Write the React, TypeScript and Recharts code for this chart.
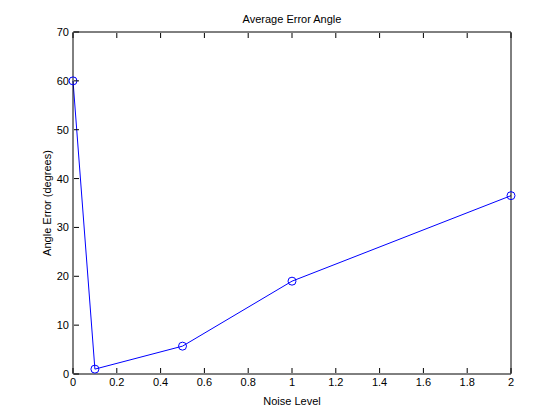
import React from 'react';
import { LineChart, Line, XAxis, YAxis, Label } from 'recharts';

const noise = [0, 0.1, 0.5, 1, 2];
const angleError = [60, 1, 5.7, 19, 36.5];
const xTicks = [0, 0.2, 0.4, 0.6, 0.8, 1, 1.2, 1.4, 1.6, 1.8, 2];
const yTicks = [0, 10, 20, 30, 40, 50, 60, 70];

const data = noise.map((n, i) => ({ n, e: angleError[i] }));
const font = 'Liberation Sans, Arial, sans-serif';

const BottomTick = (p: any) => (
  <g>
    <line x1={p.x} y1={p.y - 1} x2={p.x} y2={p.y - 6} stroke="#000" />
    <text x={p.x} y={p.y + 12} textAnchor="middle" fontSize={11} fontFamily={font}>{p.payload.value}</text>
  </g>
);
const TopTick = (p: any) => <line x1={p.x} y1={p.y + 1} x2={p.x} y2={p.y + 6} stroke="#000" />;
const LeftTick = (p: any) => (
  <g>
    <line x1={p.x + 1} y1={p.y} x2={p.x + 6} y2={p.y} stroke="#000" />
    <text x={p.x - 4} y={p.y + 4} textAnchor="end" fontSize={11} fontFamily={font}>{p.payload.value}</text>
  </g>
);
const RightTick = (p: any) => <line x1={p.x - 1} y1={p.y} x2={p.x - 6} y2={p.y} stroke="#000" />;

export default function App() {
  return (
    <div style={{ position: 'absolute', left: 0, top: 0, background: '#fff' }}>
      <LineChart width={560} height={420} data={data} margin={{ top: 31, right: 48, bottom: 45, left: 72 }}>
        <XAxis xAxisId="b" dataKey="n" type="number" domain={[0, 2]} ticks={xTicks} height={1} tickSize={0} tickMargin={0} tick={<BottomTick />} stroke="#000">
          <Label value="Noise Level" position="bottom" offset={22} fontSize={11} fontFamily={font} fill="#000" />
        </XAxis>
        <XAxis xAxisId="t" orientation="top" dataKey="n" type="number" domain={[0, 2]} ticks={xTicks} height={1} tickSize={0} tickMargin={0} tick={<TopTick />} stroke="#000">
          <Label value="Average Error Angle" position="top" offset={8} fontSize={11} fontFamily={font} fill="#000" />
        </XAxis>
        <YAxis yAxisId="l" domain={[0, 70]} ticks={yTicks} width={1} tickSize={0} tickMargin={0} tick={<LeftTick />} stroke="#000">
          <Label value="Angle Error (degrees)" angle={-90} position="left" offset={25} fontSize={11} fontFamily={font} fill="#000" style={{ textAnchor: 'middle' }} />
        </YAxis>
        <YAxis yAxisId="r" orientation="right" domain={[0, 70]} ticks={yTicks} width={1} tickSize={0} tickMargin={0} tick={<RightTick />} stroke="#000" />
        <Line xAxisId="b" yAxisId="l" dataKey="e" stroke="#0000ff" strokeWidth={1} isAnimationActive={false}
          dot={{ r: 4, stroke: '#0000ff', fill: 'none', strokeWidth: 1 }} />
      </LineChart>
    </div>
  );
}
